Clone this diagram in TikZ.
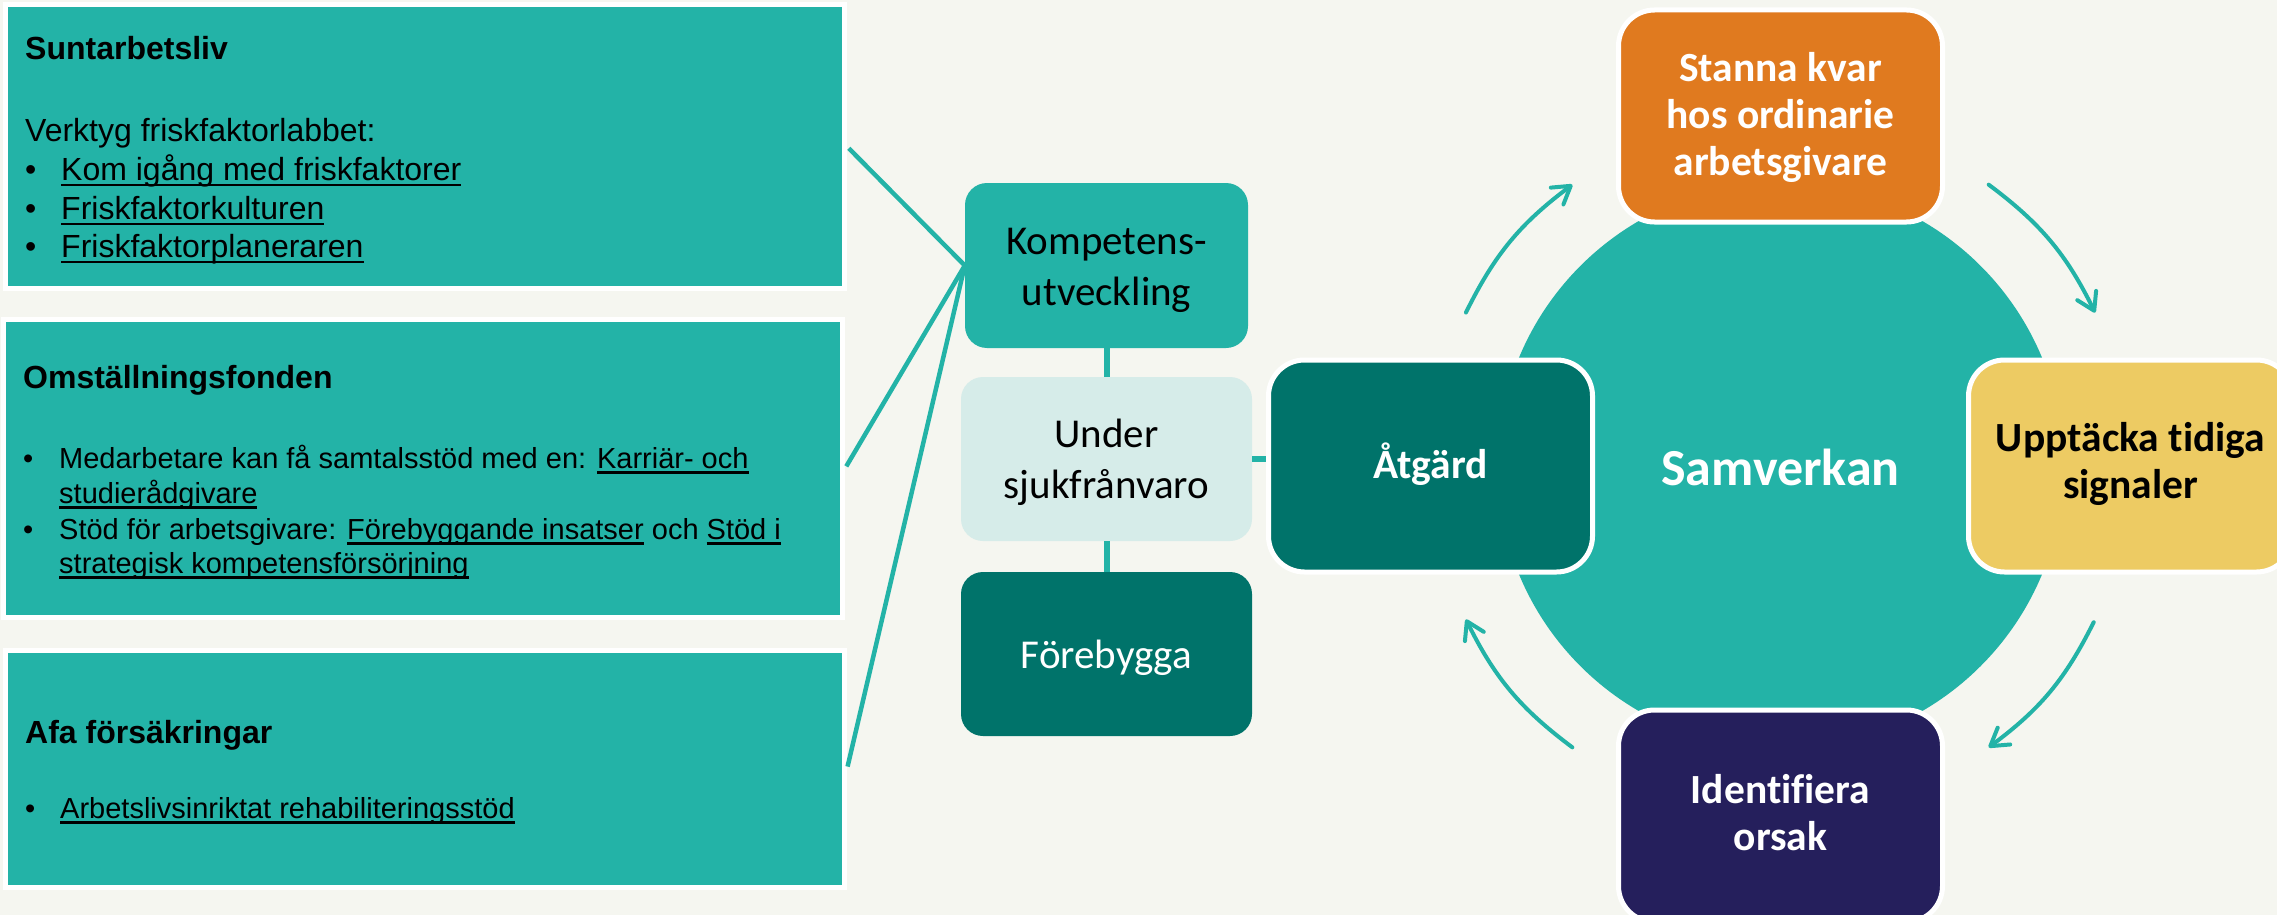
\documentclass[tikz,border=0pt]{standalone}
\usepackage{fontspec}
\setmainfont{Liberation Sans}
\newfontfamily\calfont[Ligatures=CommonOff]{Carlito}
\usetikzlibrary{arrows.meta,calc}
\definecolor{bgc}{HTML}{F5F6F0}
\definecolor{teal1}{HTML}{23B3A7}
\definecolor{dteal}{HTML}{00736A}
\definecolor{lteal}{HTML}{D6ECE9}
\definecolor{navy1}{HTML}{251F5C}
\definecolor{orange1}{HTML}{E07A1F}
\definecolor{yellow1}{HTML}{EDCB63}
\newsavebox\ulbox
\newcommand\myul[1]{\sbox\ulbox{#1}\rlap{\rule[-0.19em]{\wd\ulbox}{0.075em}}\usebox\ulbox}
\newcommand\bul[1]{\makebox[#1][l]{•}}
\newcommand\tops[1]{\rule{0pt}{#1}}
\newcommand\bots[1]{\rule[-#1]{0pt}{#1}}
\tikzset{
 lbox/.style={rectangle, draw=white, line width=5pt, fill=teal1, inner sep=0pt, minimum width=839pt},
 ln/.style={anchor=base west, inner sep=0pt, text=black},
 hd/.style={ln, font=\fontsize{32}{38}\selectfont\bfseries},
 bodyA/.style={ln, font=\fontsize{32}{38}\selectfont},
 bodyB/.style={ln, font=\fontsize{29}{35}\selectfont},
 sbox/.style={rectangle, rounded corners=22pt, inner sep=0pt, align=center, font=\calfont\fontsize{41}{51}\selectfont},
 rbox/.style={rectangle, rounded corners=36pt, draw=white, line width=5pt, minimum width=324pt, minimum height=212pt, inner sep=0pt, align=center, font=\calfont\bfseries\fontsize{41.5}{47}\selectfont},
 link/.style={draw=teal1, line width=4.5pt},
 vlink/.style={draw=teal1, line width=6pt},
 cyc/.style={draw=teal1, line width=4pt, line cap=round, -{Straight Barb[length=17pt,width=21pt,round]}},
}
\begin{document}
\begin{tikzpicture}[x=1pt,y=-1pt]
\fill[bgc] (0,0) rectangle (2277,915);
\useasboundingbox (0,0) rectangle (2277,915);
\clip (0,0) rectangle (2277,915);

% left boxes
\node[lbox, minimum height=284pt] (b1) at (425,146.5) {};
\node[lbox, minimum height=298pt] (b2) at (423,468.5) {};
\node[lbox, minimum height=237pt] (b3) at (425,769) {};

% middle column
\node[sbox, fill=teal1, minimum width=283pt, minimum height=165pt, text=black] (komp) at (1106.5,265.5) {\tops{39pt}Kompetens-\\utveckling\bots{10pt}};
\node[sbox, fill=lteal, minimum width=291pt, minimum height=164pt, text=black] (under) at (1106.5,459) {\tops{38pt}Under\\sjukfrånvaro\bots{10pt}};
\node[sbox, fill=dteal, minimum width=291pt, minimum height=164pt, text=white] (fore) at (1106.5,654) {\tops{38pt}Förebygga\bots{10pt}};

% connectors left
\draw[link, shorten <=2.5pt] (b1.east) -- (komp.west);
\draw[link, shorten <=2.5pt] (b2.east) -- (komp.west);
\draw[link, shorten <=2.5pt] (b3.east) -- (komp.west);
\draw[vlink] (komp.south) -- (under.north);
\draw[vlink] (under.south) -- (fore.north);

% cycle
\coordinate (c) at (1780.5,466);
\node[circle, fill=teal1, minimum size=566pt, inner sep=0pt, text=white, font=\calfont\bfseries\fontsize{52}{60}\selectfont] (samv) at (c) {\tops{48pt}Samverkan\bots{10pt}};

\node[rbox, fill=dteal, text=white] (atg) at ($(c)+(180:350pt)$) {\tops{36pt}Åtgärd\bots{12pt}};
\node[rbox, fill=orange1, text=white] (stanna) at ($(c)+(90:350pt)$) {\tops{35pt}Stanna kvar\\hos ordinarie\\arbetsgivare\bots{10pt}};
\node[rbox, fill=yellow1, text=black] (upp) at ($(c)+(0:350pt)$) {\tops{33pt}Upptäcka tidiga\\signaler\bots{16pt}};
\node[rbox, fill=navy1, text=white] (ident) at ($(c)+(270:350pt)$) {\tops{33pt}Identifiera\\orsak\bots{12pt}};

\draw[vlink] (under.east) -- (under.east -| atg.west);

\coordinate (a1s) at ($(c)+(154:350pt)$);
\coordinate (a1e) at ($(c)+(126.5:350pt)$);
\coordinate (a2s) at ($(c)+(53.5:350pt)$);
\coordinate (a2e) at ($(c)+(26:350pt)$);
\coordinate (a3s) at ($(c)+(-26.5:350pt)$);
\coordinate (a3e) at ($(c)+(-53.5:350pt)$);
\coordinate (a4s) at ($(c)+(-126.5:350pt)$);
\coordinate (a4e) at ($(c)+(-154:350pt)$);
\draw[cyc] (a1s) to[bend left=13.5] (a1e);
\draw[cyc] (a2s) to[bend left=13.5] (a2e);
\draw[cyc] (a3s) to[bend left=13.5] (a3e);
\draw[cyc] (a4s) to[bend left=13.5] (a4e);

% texts box 1
\node[hd] (t1h) at (25,60) {Suntarbetsliv};
\node[bodyA] (t1a) at (25,142) {Verktyg friskfaktorlabbet:};
\node[bodyA] (t1b) at (25,180) {\bul{36pt}\myul{Kom igång med friskfaktorer}};
\node[bodyA] (t1c) at (25,219) {\bul{36pt}\myul{Friskfaktorkulturen}};
\node[bodyA] (t1d) at (25,257) {\bul{36pt}\myul{Friskfaktorplaneraren}};

% texts box 2
\node[hd] (t2h) at (23,388) {Omställningsfonden};
\node[bodyB] (t2a) at (23,468) {\bul{36pt}Medarbetare kan få samtalsstöd med en: \myul{Karriär- och}};
\node[bodyB] (t2b) at (59,503) {\myul{studierådgivare}};
\node[bodyB] (t2c) at (23,539) {\bul{36pt}Stöd för arbetsgivare: \myul{Förebyggande insatser} och \myul{Stöd i}};
\node[bodyB] (t2d) at (59,573) {\myul{strategisk kompetensförsörjning}};

% texts box 3
\node[hd] (t3h) at (25,743) {Afa försäkringar};
\node[bodyB] (t3a) at (25,818) {\bul{35pt}\myul{Arbetslivsinriktat rehabiliteringsstöd}};
\end{tikzpicture}
\end{document}
